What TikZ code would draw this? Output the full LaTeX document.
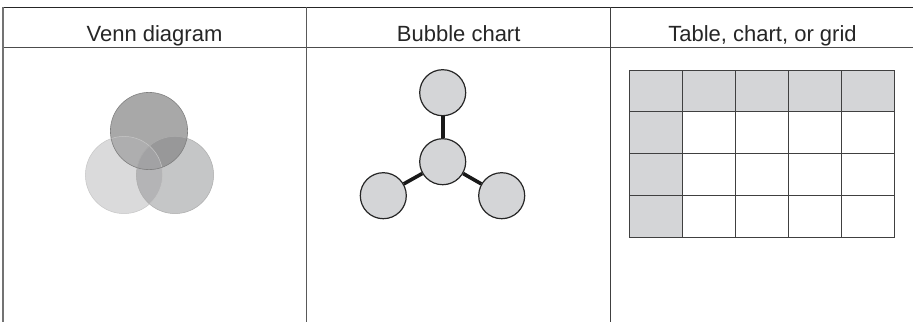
\documentclass[tikz,border=0pt]{standalone}
\usepackage{fontspec}
\setmainfont{Liberation Sans}
\begin{document}
\begin{tikzpicture}[x=1pt,y=-1pt,
  hdr/.style={font=\fontsize{22}{24}\selectfont, text=black!85, anchor=base, inner sep=0pt},
  bubble/.style={circle, draw=black!85, line width=1.2pt, fill=cgray, minimum size=46pt, inner sep=0pt},
  link/.style={line width=3.6pt, black!90},
  cell/.style={draw=black!75, line width=0.9pt}]
\definecolor{cgray}{HTML}{D4D5D7}
\useasboundingbox (0,0) rectangle (913,322);
\fill[white] (0,0) rectangle (913,322);
% frame
\coordinate (tl) at (3,7.3);
\coordinate (tr) at (913,7.3);
\coordinate (hl) at (3,47);
\coordinate (hr) at (913,47);
\draw[line width=1.2pt, black!85] (tl) -- (tr);
\draw[line width=1pt, black!70] (hl) -- (hr);
\coordinate (l1) at (3,7.3); \coordinate (l2) at (3,322);
\coordinate (m1) at (306.5,7.3); \coordinate (m2) at (306.5,322);
\coordinate (n1) at (610.8,7.3); \coordinate (n2) at (610.8,322);
\draw[line width=1.1pt, black!55] (l1) -- (l2);
\draw[line width=1pt, black!65] (m1) -- (m2);
\draw[line width=1pt, black!75] (n1) -- (n2);
% headers
\node[hdr] (h1) at (154.5,41.5) {Venn diagram};
\node[hdr] (h2) at (458.7,41.5) {Bubble chart};
\node[hdr] (h3) at (762.5,41.5) {Table, chart, or grid};
% Venn
\def\R{38.6}
\coordinate (vt) at (149,131);
\coordinate (vl) at (124,175);
\coordinate (vr) at (175,175);
\fill[color={rgb,255:red,218;green,218;blue,219}] (vl) circle (\R);
\fill[color={rgb,255:red,197;green,198;blue,199}] (vr) circle (\R);
\fill[color={rgb,255:red,168;green,168;blue,168}] (vt) circle (\R);
\begin{scope}
  \clip (vl) circle (\R);
  \fill[color={rgb,255:red,180;green,180;blue,182}] (vr) circle (\R);
  \fill[color={rgb,255:red,174;green,174;blue,175}] (vt) circle (\R);
\end{scope}
\begin{scope}
  \clip (vr) circle (\R);
  \fill[color={rgb,255:red,152;green,152;blue,153}] (vt) circle (\R);
\end{scope}
\begin{scope}
  \clip (vr) circle (\R);
  \clip (vl) circle (\R);
  \fill[color={rgb,255:red,162;green,162;blue,164}] (vt) circle (\R);
\end{scope}
\draw[line width=0.5pt, black!22] (vl) circle (\R);
\draw[line width=0.5pt, black!32] (vr) circle (\R);
\draw[line width=0.6pt, black!50] (vt) circle (\R);
% Bubble chart
\node[bubble] (bt) at (442.7,92.7) {};
\node[bubble] (bc) at (442.7,161.7) {};
\node[bubble] (bl) at (383.3,195.7) {};
\node[bubble] (br) at (501.7,195.7) {};
\draw[link] (bc.north) -- (bt.south);
\draw[link] (bc.210) -- (bl.30);
\draw[link] (bc.330) -- (br.150);
% Table
\def\xa{629}\def\ya{70}\def\cw{53.14}\def\rh{41.75}
\fill[cgray] (\xa,\ya) rectangle ({\xa+5*\cw},{\ya+\rh});
\fill[cgray] (\xa,\ya) rectangle ({\xa+\cw},{\ya+4*\rh});
\foreach \i in {0,...,5} {
  \coordinate (ct\i) at ({\xa+\i*\cw},\ya);
  \coordinate (cb\i) at ({\xa+\i*\cw},{\ya+4*\rh});
  \draw[cell] (ct\i) -- (cb\i);
}
\foreach \j in {0,...,4} {
  \coordinate (rl\j) at (\xa,{\ya+\j*\rh});
  \coordinate (rr\j) at ({\xa+5*\cw},{\ya+\j*\rh});
  \draw[cell] (rl\j) -- (rr\j);
}
\end{tikzpicture}
\end{document}
